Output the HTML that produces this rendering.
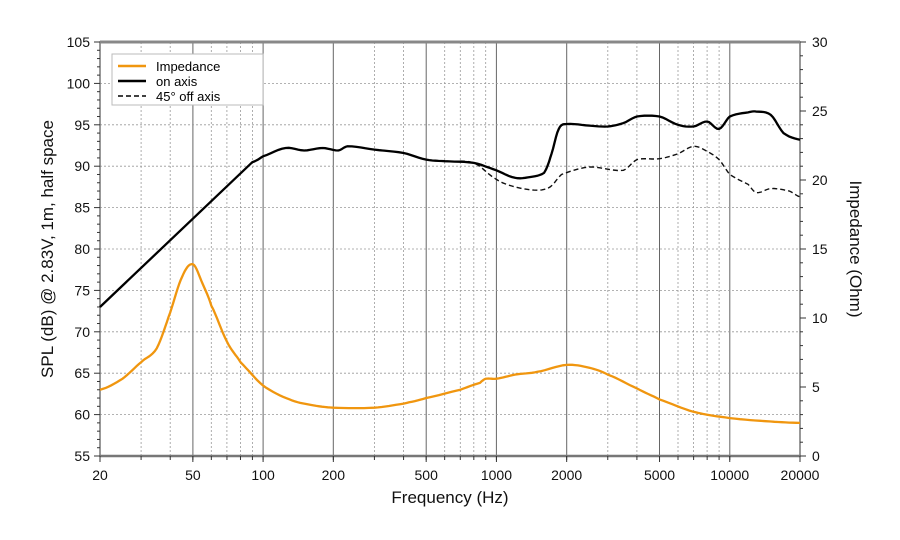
<!DOCTYPE html>
<html><head><meta charset="utf-8"><style>
html,body{margin:0;padding:0;background:#fff;}
svg{display:block;font-family:"Liberation Sans",Arial,sans-serif;}
</style></head><body>
<svg id="s" width="900" height="540" xmlns="http://www.w3.org/2000/svg"></svg>
<script>
const L=100,R=800,T=42,B=456;
const fx=f=>L+(Math.log10(f)-Math.log10(20))*(R-L)/3;
const fy=d=>B-(d-55)*(B-T)/50;
const oy=o=>B-o*(B-T)/30;
let s='';
// vertical grid
const vf=[];
for(let d=10;d<=10000;d*=10)for(let k=1;k<10;k++){const f=d*k;if(f>=20&&f<=20000)vf.push(f);}
vf.forEach(f=>{const x=fx(f).toFixed(1);const major=[50,100,200,500,1000,2000,5000,10000].includes(f);
 s+=`<line x1="${x}" y1="${T}" x2="${x}" y2="${B}" stroke="${major?'#666':'#999'}" stroke-width="${major?1:0.8}" stroke-dasharray="${major?'':'2,2'}"/>`;});
for(let d=60;d<105;d+=5){const y=fy(d).toFixed(1);s+=`<line x1="${L}" y1="${y}" x2="${R}" y2="${y}" stroke="#999" stroke-width="0.8" stroke-dasharray="2,2"/>`;}
// axes frame
s+=`<rect x="${L}" y="${T}" width="${R-L}" height="${B-T}" fill="none" stroke="#777" stroke-width="1.5"/>`;
s+=`<line x1="${L}" y1="${T}" x2="${R}" y2="${T}" stroke="#888" stroke-width="3"/>`;
s+=`<line x1="${L}" y1="${B}" x2="${R}" y2="${B}" stroke="#777" stroke-width="2.5"/>`;
// left ticks
for(let d=55;d<=105;d++){const y=fy(d);const m=d%5==0;s+=`<line x1="${L-(m?6:3)}" y1="${y}" x2="${L}" y2="${y}" stroke="#333"/>`;
 if(m)s+=`<text x="${L-10}" y="${y+5}" font-size="14" text-anchor="end" fill="#111">${d}</text>`;}
for(let o=0;o<=30;o++){const y=oy(o);const m=o%5==0;s+=`<line x1="${R}" y1="${y}" x2="${R+(m?6:3)}" y2="${y}" stroke="#333"/>`;
 if(m)s+=`<text x="${R+12}" y="${y+5}" font-size="14" fill="#111">${o}</text>`;}
[20,50,100,200,500,1000,2000,5000,10000,20000].forEach(f=>{const x=fx(f);s+=`<line x1="${x}" y1="${B}" x2="${x}" y2="${B+6}" stroke="#333"/><text x="${x}" y="${B+24}" font-size="14" text-anchor="middle" fill="#111">${f}</text>`;});
vf.forEach(f=>{const x=fx(f);s+=`<line x1="${x}" y1="${B}" x2="${x}" y2="${B+4}" stroke="#333"/>`;});
s+=`<text x="450" y="503" font-size="17" text-anchor="middle" fill="#111">Frequency (Hz)</text>`;
s+=`<text transform="translate(53,249) rotate(-90)" font-size="17" text-anchor="middle" fill="#111">SPL (dB) @ 2.83V, 1m, half space</text>`;
s+=`<text transform="translate(850,249) rotate(90)" font-size="17" text-anchor="middle" fill="#111">Impedance (Ohm)</text>`;
const path=(pts,fy_)=>'M'+pts.map(p=>fx(p[0]).toFixed(1)+','+fy_(p[1]).toFixed(1)).join(' L');
// smooth interpolation in log-f
function interp(pts,n){const out=[];const lf=pts.map(p=>Math.log10(p[0]));
 for(let i=0;i<pts.length-1;i++){for(let j=0;j<n;j++){const t=j/n;
  const p0=pts[Math.max(0,i-1)],p1=pts[i],p2=pts[i+1],p3=pts[Math.min(pts.length-1,i+2)];
  const y=0.5*((2*p1[1])+(-p0[1]+p2[1])*t+(2*p0[1]-5*p1[1]+4*p2[1]-p3[1])*t*t+(-p0[1]+3*p1[1]-3*p2[1]+p3[1])*t*t*t);
  out.push([Math.pow(10,lf[i]+(lf[i+1]-lf[i])*t),y]);}}
 out.push(pts[pts.length-1]);return out;}
const imp=[[20,4.8],[25,5.6],[30,6.8],[35,7.8],[40,10.4],[45,13.0],[50,13.9],[55,12.5],[60,10.9],[70,8.3],[80,6.8],[100,5.1],[130,4.1],[160,3.7],[200,3.5],[300,3.5],[400,3.8],[500,4.2],[700,4.8],[850,5.3],[900,5.6],[1000,5.6],[1200,5.9],[1500,6.1],[2000,6.6],[2500,6.4],[3000,5.9],[4000,4.9],[5000,4.1],[7000,3.2],[10000,2.75],[15000,2.5],[20000,2.4]];
const on=[[20,73],[90,90.5],[100,91.2],[125,92.2],[150,91.9],[180,92.2],[210,91.9],[230,92.4],[300,92.0],[400,91.6],[500,90.8],[600,90.6],[800,90.4],[1000,89.5],[1200,88.6],[1400,88.7],[1600,89.2],[1700,91],[1850,94.5],[2000,95.1],[2500,94.9],[3000,94.8],[3500,95.2],[4000,96],[5000,96.0],[6000,95.0],[7000,94.8],[8000,95.4],[9000,94.5],[10000,96.0],[12000,96.5],[13000,96.6],[15000,96.2],[17000,94.0],[20000,93.2]];
const off=[[20,73],[90,90.5],[100,91.2],[125,92.2],[150,91.9],[180,92.2],[210,91.9],[230,92.4],[300,92.0],[400,91.6],[500,90.8],[600,90.6],[800,90.4],[1000,88.4],[1200,87.5],[1500,87.1],[1700,87.5],[1900,89],[2500,89.9],[3500,89.5],[4000,90.8],[5000,90.9],[6000,91.5],[7000,92.4],[8000,91.8],[9000,90.8],[10000,89],[12000,87.8],[13000,86.8],[15000,87.3],[18000,87.0],[20000,86.3]];
const onS=[[20,73],[90,90.5]].concat(interp(on.slice(1),6));
const offS=[[20,73],[90,90.5]].concat(interp(off.slice(1),6));
s+=`<path d="${path(interp(imp,8),oy)}" fill="none" stroke="#f0960f" stroke-width="2.3"/>`;
s+=`<path d="${path(offS,fy)}" fill="none" stroke="#111" stroke-width="1.4" stroke-dasharray="5,3"/>`;
s+=`<path d="${path(onS,fy)}" fill="none" stroke="#000" stroke-width="2.3"/>`;
// legend
s+=`<rect x="112" y="54" width="151" height="51" fill="#fff" stroke="#bbb"/>`;
s+=`<line x1="118" y1="66" x2="146" y2="66" stroke="#f0960f" stroke-width="2.5"/><text x="156" y="71" font-size="13">Impedance</text>`;
s+=`<line x1="118" y1="81" x2="146" y2="81" stroke="#000" stroke-width="2.5"/><text x="156" y="86" font-size="13">on axis</text>`;
s+=`<line x1="118" y1="96" x2="146" y2="96" stroke="#000" stroke-width="1.5" stroke-dasharray="5,3"/><text x="156" y="101" font-size="13">45° off axis</text>`;
document.getElementById('s').innerHTML=s;
</script>
</body></html>
